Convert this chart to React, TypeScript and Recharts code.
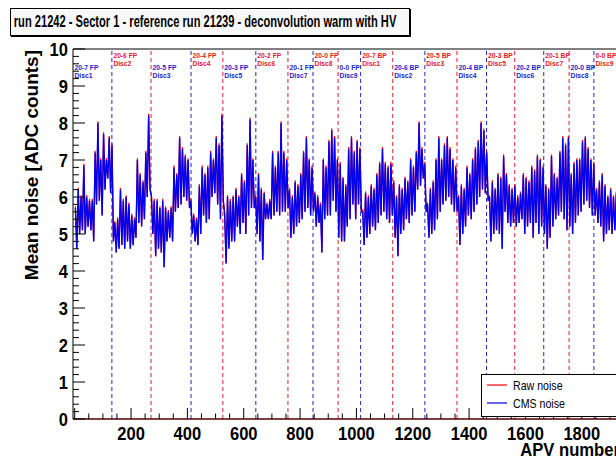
import React from 'react';
import { LineChart, Line, XAxis, YAxis, ReferenceLine } from 'recharts';

// noise per APV, read per 10 APV bin: upper and lower envelope of the CMS noise
const cmsHigh = [
  5.7, 6.2, 6.0, 6.85, 6.0, 5.9, 5.9, 7.2, 8.0, 7.0,
  7.7, 7.0, 7.6, 7.4, 5.3, 5.4, 6.2, 5.9, 6.0, 5.8,
  5.5, 5.4, 7.0, 6.6, 6.4, 7.2, 8.2, 6.0, 5.9, 5.9,
  5.7, 5.9, 5.7, 5.6, 5.7, 6.8, 6.6, 7.6, 7.3, 7.1,
  7.0, 5.9, 5.5, 5.4, 6.3, 6.8, 6.6, 6.8, 7.2, 7.0,
  7.6, 7.4, 8.2, 5.5, 6.0, 5.9, 6.0, 6.2, 6.0, 6.6,
  6.4, 7.4, 8.1, 7.0, 6.0, 6.6, 6.2, 6.1, 5.8, 5.9,
  7.2, 6.8, 7.2, 8.0, 7.2, 7.0, 6.2, 6.0, 6.4, 6.3,
  6.6, 7.2, 7.6, 7.0, 6.8, 6.1, 6.0, 5.8, 7.0, 6.8,
  7.5, 7.8, 7.6, 7.0, 6.9, 6.5, 6.3, 7.3, 7.6, 7.2,
  7.5, 7.3, 5.6, 6.1, 6.0, 6.3, 6.2, 6.6, 6.9, 7.3,
  6.9, 6.8, 6.9, 6.4, 6.0, 6.3, 6.2, 6.5, 6.4, 7.0,
  6.8, 7.2, 8.0, 7.3, 6.9, 5.8, 6.2, 6.4, 7.0, 7.6,
  7.0, 7.4, 7.6, 7.3, 7.0, 6.8, 6.0, 6.3, 6.2, 6.8,
  6.6, 7.0, 7.3, 7.5, 8.0, 7.8, 7.2, 6.0, 6.4, 6.2,
  6.6, 6.5, 7.1, 6.6, 6.3, 6.2, 6.3, 6.0, 6.1, 6.6,
  6.5, 6.4, 6.8, 6.7, 7.1, 7.0, 6.8, 6.3, 6.2, 7.1,
  6.6, 6.5, 7.2, 7.6, 7.4, 7.6, 6.6, 6.9, 7.0, 7.0,
  7.5, 7.6, 7.3, 7.0, 6.9, 6.2, 6.4, 6.6, 6.3, 6.0,
  6.2, 6.0, 6.1,
];

const cmsLow = [
  4.6, 5.0, 5.1, 5.0, 5.2, 5.1, 4.8, 5.8, 5.9, 5.5,
  6.2, 6.5, 6.1, 4.8, 4.5, 4.6, 4.7, 4.6, 4.8, 4.6,
  4.7, 4.9, 5.3, 5.2, 5.4, 6.0, 6.2, 5.0, 4.4, 4.6,
  4.5, 4.1, 4.8, 4.9, 4.8, 5.6, 5.7, 5.8, 6.0, 5.9,
  5.7, 5.0, 4.8, 4.7, 5.0, 5.5, 5.3, 5.4, 6.0, 6.1,
  5.8, 5.4, 5.9, 4.2, 4.6, 4.8, 4.8, 5.2, 5.0, 5.3,
  5.0, 5.5, 5.7, 5.7, 5.0, 4.8, 4.3, 5.4, 5.4, 5.4,
  5.5, 5.6, 5.5, 5.6, 5.6, 5.7, 4.9, 5.0, 5.2, 5.3,
  5.4, 5.6, 5.7, 5.5, 5.6, 5.2, 5.3, 4.5, 5.4, 5.5,
  5.5, 5.9, 5.6, 4.9, 4.8, 4.8, 5.2, 5.4, 5.8, 5.4,
  5.8, 5.6, 4.7, 4.9, 5.0, 5.2, 5.1, 5.3, 5.5, 5.6,
  5.4, 5.3, 5.5, 4.9, 4.4, 5.0, 5.1, 5.4, 5.3, 5.5,
  5.6, 6.2, 6.3, 6.5, 5.6, 4.9, 5.0, 5.1, 5.4, 5.6,
  5.8, 5.9, 6.0, 5.8, 5.6, 5.6, 4.7, 5.0, 5.2, 5.5,
  5.4, 5.6, 5.8, 6.0, 6.2, 6.1, 5.9, 4.8, 5.0, 5.1,
  5.0, 4.6, 5.6, 5.3, 5.2, 5.3, 5.2, 5.3, 5.4, 5.0,
  5.2, 5.3, 4.9, 5.3, 5.0, 5.2, 5.0, 4.6, 4.9, 5.2,
  5.4, 5.5, 5.6, 5.4, 5.1, 5.2, 5.0, 5.3, 5.5, 5.6,
  5.8, 5.9, 5.7, 5.5, 5.5, 5.3, 5.2, 4.8, 5.0, 5.1,
  5.0, 5.1, 5.2,
];

// raw noise peaks (sits just above the CMS noise)
const rawHigh = [
  5.75, 6.25, 6.05, 6.9, 6.05, 5.95, 5.95, 7.25, 8.05, 7.05,
  7.75, 7.05, 7.65, 7.45, 5.35, 5.45, 6.25, 5.95, 6.05, 5.85,
  5.55, 5.45, 7.05, 6.65, 6.45, 7.25, 8.25, 6.05, 5.95, 5.95,
  5.75, 5.95, 5.75, 5.65, 5.75, 6.85, 6.65, 7.65, 7.35, 7.15,
  7.05, 5.95, 5.55, 5.45, 6.35, 6.85, 6.65, 6.85, 7.25, 7.05,
  7.65, 7.45, 8.25, 5.55, 6.05, 5.95, 6.05, 6.25, 6.05, 6.65,
  6.45, 7.45, 8.15, 7.05, 6.05, 6.65, 6.25, 6.15, 5.85, 5.95,
  7.25, 6.85, 7.25, 8.05, 7.25, 7.05, 6.25, 6.05, 6.45, 6.35,
  6.65, 7.25, 7.65, 7.05, 6.85, 6.15, 6.05, 5.85, 7.05, 6.85,
  7.55, 7.85, 7.65, 7.05, 6.95, 6.55, 6.35, 7.35, 7.65, 7.25,
  7.55, 7.35, 5.65, 6.15, 6.05, 6.35, 6.25, 6.65, 6.95, 7.35,
  6.95, 6.85, 6.95, 6.45, 6.05, 6.35, 6.25, 6.55, 6.45, 7.05,
  6.85, 7.25, 8.05, 7.35, 6.95, 5.85, 6.25, 6.45, 7.05, 7.65,
  7.05, 7.45, 7.65, 7.35, 7.05, 6.85, 6.05, 6.35, 6.25, 6.85,
  6.65, 7.05, 7.35, 7.55, 8.05, 7.85, 7.25, 6.05, 6.45, 6.25,
  6.65, 6.55, 7.15, 6.65, 6.35, 6.25, 6.35, 6.05, 6.15, 6.65,
  6.55, 6.45, 6.85, 6.75, 7.15, 7.05, 6.85, 6.35, 6.25, 7.15,
  6.65, 6.55, 7.25, 7.65, 7.45, 7.65, 6.65, 6.95, 7.05, 7.05,
  7.55, 7.65, 7.35, 7.05, 6.95, 6.25, 6.45, 6.65, 6.35, 6.05,
  6.25, 6.05, 6.15,
];

const BIN = 10;

// disc boundaries (APV number) and their labels
const discEdges = [132, 271, 413, 526, 643, 757, 846, 935, 1015, 1129, 1243, 1357, 1462, 1562, 1665, 1755, 1843];
const discRings = [
  '20-7 FP', '20-6 FP', '20-5 FP', '20-4 FP', '20-3 FP', '20-2 FP', '20-1 FP', '20-0 FP', '0-0 FP',
  '20-7 BP', '20-6 BP', '20-5 BP', '20-4 BP', '20-3 BP', '20-2 BP', '20-1 BP', '20-0 BP', '0-0 BP',
];
const discNames = [
  'Disc1', 'Disc2', 'Disc3', 'Disc4', 'Disc5', 'Disc6', 'Disc7', 'Disc8', 'Disc9',
  'Disc1', 'Disc2', 'Disc3', 'Disc4', 'Disc5', 'Disc6', 'Disc7', 'Disc8', 'Disc9',
];

const xMajor = [0, 200, 400, 600, 800, 1000, 1200, 1400, 1600, 1800];
const yMajor = [0, 1, 2, 3, 4, 5, 6, 7, 8, 9, 10];

const X_MIN = -6;
const X_MAX = 1925;
const FONT = "'Liberation Sans', Arial, Helvetica, sans-serif";
const RED = '#ff0000';
const BLUE = '#0000ee';
const LABEL_RED = '#e0202c';
const LABEL_BLUE = '#2424c8';

const data: { apv: number; raw: number; cms: number }[] = [];
cmsHigh.forEach((hi, i) => {
  data.push({ apv: i * BIN + 2.5, raw: rawHigh[i], cms: hi });
  data.push({ apv: i * BIN + 7.5, raw: cmsLow[i], cms: cmsLow[i] });
});

const xTicks: number[] = [];
for (let v = 0; v <= 1900; v += 50) xTicks.push(v);
const yTicks: number[] = [];
for (let i = 0; i <= 50; i++) yTicks.push(i / 5);

const XTick = ({ x, y, payload }: any) => {
  const v = payload.value;
  const major = xMajor.includes(v);
  return (
    <g>
      <line x1={x} x2={x} y1={y} y2={y - (major ? 11 : 5.5)} stroke="#000" strokeWidth={1} />
      {major && v > 0 && (
        <text
          transform={`translate(${x},${y + 21}) scale(0.87,1)`}
          textAnchor="middle"
          fontSize={19}
          fontWeight="bold"
          fontFamily={FONT}
          fill="#000"
        >
          {v}
        </text>
      )}
    </g>
  );
};

const YTick = ({ x, y, payload }: any) => {
  const v = payload.value;
  const major = yMajor.some((m) => Math.abs(m - v) < 1e-6);
  return (
    <g>
      <line x1={x} x2={x + (major ? 12 : 6)} y1={y} y2={y} stroke="#000" strokeWidth={1} />
      {major && (
        <text
          transform={`translate(${x - 5},${y + 7}) scale(0.87,1)`}
          textAnchor="end"
          fontSize={19}
          fontWeight="bold"
          fontFamily={FONT}
          fill="#000"
        >
          {Math.round(v)}
        </text>
      )}
    </g>
  );
};

const DiscLabel = ({ viewBox, ring, disc, color, upper }: any) => {
  if (!viewBox) return null;
  const x = viewBox.x + 1.5;
  const y0 = viewBox.y + (upper ? 8.5 : 21);
  return (
    <g fill={color} fontSize={7.5} fontWeight="bold" fontFamily={FONT}>
      <text transform={`translate(${x},${y0}) scale(0.9,1)`}>{ring}</text>
      <text transform={`translate(${x},${y0 + 8}) scale(0.9,1)`}>{disc}</text>
    </g>
  );
};

export default function App() {
  const starts = [X_MIN, ...discEdges];
  return (
    <div
      style={{
        position: 'fixed',
        left: 0,
        top: 0,
        width: 616,
        height: 459,
        overflow: 'hidden',
        background: '#fff',
        fontFamily: FONT,
      }}
    >
      <LineChart
        width={720}
        height={459}
        data={data}
        margin={{ top: 49, right: 103, bottom: 0, left: 33 }}
      >
        <XAxis
          dataKey="apv"
          type="number"
          domain={[X_MIN, X_MAX]}
          allowDataOverflow
          ticks={xTicks}
          interval={0}
          tickSize={0}
          tickMargin={0}
          tickLine={false}
          tick={<XTick />}
          height={40}
          axisLine={{ stroke: '#000' }}
        />
        <YAxis
          type="number"
          domain={[0, 10]}
          allowDataOverflow
          ticks={yTicks}
          interval={0}
          tickSize={0}
          tickMargin={0}
          tickLine={false}
          tick={<YTick />}
          width={40}
          axisLine={{ stroke: '#000' }}
        />
        <ReferenceLine y={10} stroke="#000" strokeWidth={1} />
        <ReferenceLine y={0} stroke={RED} strokeWidth={1.2} />
        {starts.map((s, i) => (
          <ReferenceLine
            key={`edge-${i}`}
            x={s}
            stroke={i === 0 ? 'none' : i % 2 === 1 ? LABEL_BLUE : LABEL_RED}
            strokeDasharray="4 3"
            strokeWidth={1}
            label={
              <DiscLabel
                ring={discRings[i]}
                disc={discNames[i]}
                color={i % 2 === 0 ? LABEL_BLUE : LABEL_RED}
                upper={i % 2 === 1}
              />
            }
          />
        ))}
        <Line
          type="linear"
          dataKey="raw"
          stroke={RED}
          strokeWidth={1.2}
          dot={false}
          isAnimationActive={false}
        />
        <Line
          type="linear"
          dataKey="cms"
          stroke={BLUE}
          strokeWidth={1.4}
          dot={false}
          isAnimationActive={false}
        />
        <text
          transform="translate(38,50) rotate(-90)"
          textAnchor="end"
          fontSize={19}
          fontWeight="bold"
          fontFamily={FONT}
          fill="#000"
        >
          Mean noise [ADC counts]
        </text>
        <text
          transform="translate(620,456) scale(0.9,1)"
          textAnchor="end"
          fontSize={18.5}
          fontWeight="bold"
          fontFamily={FONT}
          fill="#000"
        >
          APV number
        </text>
      </LineChart>

      {/* title box */}
      <div
        style={{
          position: 'absolute',
          left: 10,
          top: 8,
          width: 398,
          height: 26,
          border: '1px solid #000',
          boxShadow: '1px 1px 0 #000',
          background: '#f8f8f8',
          overflow: 'hidden',
        }}
      >
        <span
          style={{
            display: 'inline-block',
            whiteSpace: 'nowrap',
            fontSize: 16,
            fontWeight: 'bold',
            lineHeight: '26px',
            paddingLeft: 4,
            transform: 'scale(0.695,1)',
            transformOrigin: 'left center',
          }}
        >
          run 21242 - Sector 1 - reference run 21239 - deconvolution warm with HV
        </span>
      </div>

      {/* legend */}
      <svg
        width={140}
        height={44}
        style={{ position: 'absolute', left: 481, top: 374 }}
      >
        <rect x={0.5} y={0.5} width={150} height={42} fill="#fff" stroke="#000" strokeWidth={1} />
        <line x1={6} x2={26} y1={11} y2={11} stroke={RED} strokeWidth={1.2} />
        <text
          transform="translate(32,15.5) scale(0.85,1)"
          fontSize={12.5}
          fontFamily={FONT}
          fill="#000"
        >
          Raw noise
        </text>
        <line x1={6} x2={26} y1={29} y2={29} stroke={BLUE} strokeWidth={1.2} />
        <text
          transform="translate(32,33.5) scale(0.85,1)"
          fontSize={12.5}
          fontFamily={FONT}
          fill="#000"
        >
          CMS noise
        </text>
      </svg>
    </div>
  );
}
